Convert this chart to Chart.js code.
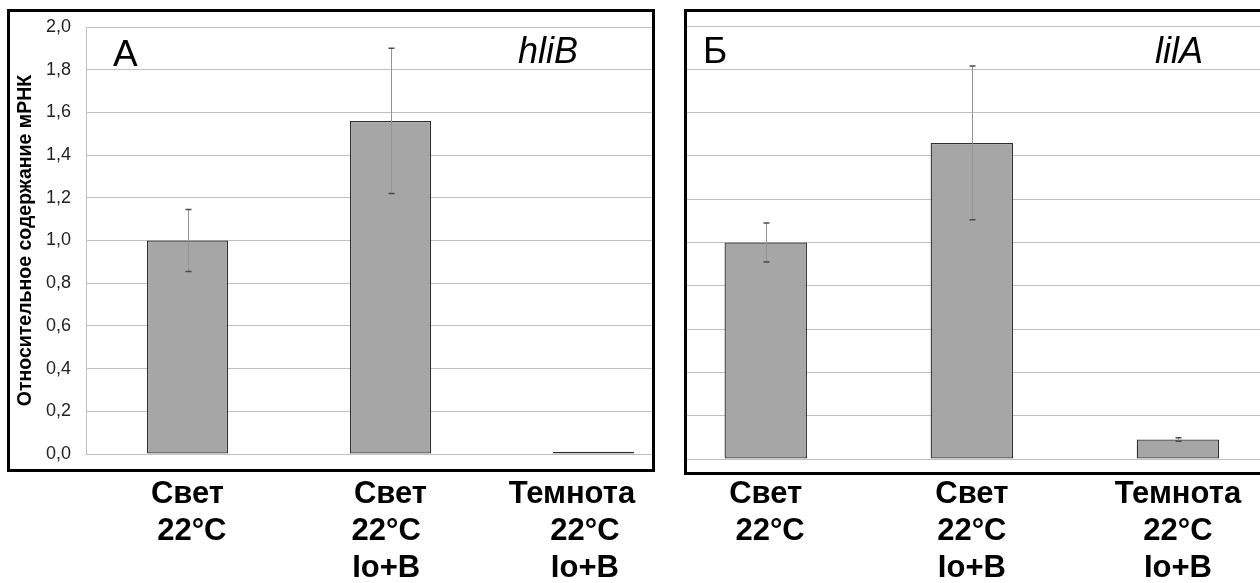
<!DOCTYPE html>
<html lang="ru">
<head>
<meta charset="utf-8">
<title>Относительное содержание мРНК: hliB и lilA</title>
<script src="https://cdn.jsdelivr.net/npm/chart.js@4.4.1/dist/chart.umd.min.js"></script>
<style>
  html, body { margin: 0; padding: 0; background: #fff; overflow: hidden; width: 1260px; height: 583px; }
  .cv { position: absolute; top: 0; }
  /* each plot is cut off by its frame on one side */
  #canvasA { left: 0; clip-path: inset(0 68px 0 0); }
  #canvasB { left: 640px; clip-path: inset(0 0 0 47px); }
  .frame { position: absolute; border: 3px solid #000; box-sizing: border-box; pointer-events: none; }
  #frameA { left: 7px; top: 9px; width: 648px; height: 463px; }
  #frameB { left: 684px; top: 9px; width: 620px; height: 466px; }
</style>
</head>
<body>
<canvas id="canvasA" class="cv" width="720" height="583"></canvas>
<canvas id="canvasB" class="cv" width="660" height="583"></canvas>
<div id="frameA" class="frame"></div>
<div id="frameB" class="frame"></div>
<script>
// Conditions (multi-line category labels; spacing nudges the lines sideways)
const labelsA = [
  ['Свет', ' 22°C'],
  ['Свет', '22°C ', 'Io+B '],
  ['Темнота     ', '22°C  ', 'Io+B  ']
];
const labelsB = [
  ['Свет', ' 22°C'],
  ['Свет', '22°C', 'Io+B'],
  ['Темнота', '22°C', 'Io+B']
];

// Relative mRNA level (mean) and error
const hliB    = [1.00, 1.56, 0.01];
const hliBErr = [0.145, 0.34, 0];
const lilA    = [1.00, 1.46, 0.09];
const lilAErr = [0.09, 0.355, 0.008];

// Value axis
const yTicks = ['0,0', '0,2', '0,4', '0,6', '0,8', '1,0', '1,2', '1,4', '1,6', '1,8', '2,0'];
const yTitle = 'Относительное содержание мРНК';

const FONT = "'Liberation Sans', Arial, sans-serif";
Chart.defaults.font.family = FONT;
Chart.defaults.animation = false;

// vertical error bars with short caps, placed through the y scale
const errorBars = {
  id: 'errorBars',
  afterDatasetsDraw(chart, args, opts) {
    const ctx = chart.ctx;
    const y = chart.scales.y;
    chart.data.datasets.forEach((ds, i) => {
      if (!ds.errors) return;
      chart.getDatasetMeta(i).data.forEach((bar, j) => {
        const e = ds.errors[j];
        if (!e) return;
        const v = ds.data[j];
        const top = y.getPixelForValue(v + e);
        const bot = y.getPixelForValue(v - e);
        const x = Math.round(bar.x) + 0.5;
        ctx.save();
        ctx.strokeStyle = opts.lineColor;
        ctx.lineWidth = 1;
        ctx.beginPath();
        ctx.moveTo(x, top);
        ctx.lineTo(x, bot);
        ctx.stroke();
        ctx.strokeStyle = opts.capColor;
        ctx.lineWidth = 1.5;
        ctx.beginPath();
        [top, bot].forEach(py => {
          ctx.moveTo(x - opts.cap, py);
          ctx.lineTo(x + opts.cap, py);
        });
        ctx.stroke();
        ctx.restore();
      });
    });
  }
};

// panel letter and gene name
const panelText = {
  id: 'panelText',
  afterDraw(chart, args, opts) {
    const ctx = chart.ctx;
    (opts.items || []).forEach(t => {
      ctx.save();
      ctx.font = t.font;
      ctx.fillStyle = '#000';
      ctx.textAlign = 'left';
      ctx.textBaseline = 'alphabetic';
      ctx.fillText(t.text, t.x, t.y);
      ctx.restore();
    });
  }
};

const GRID = '#c0c0c0';

function barPanel(id, labels, values, errors, opt) {
  return new Chart(document.getElementById(id), {
    type: 'bar',
    data: {
      labels: labels,
      datasets: [{
        data: values,
        errors: errors,
        backgroundColor: '#a6a6a6',
        borderColor: '#2e2e2e',
        borderWidth: 1.3,
        borderSkipped: false,
        barPercentage: 0.4,
        categoryPercentage: 1
      }]
    },
    options: {
      responsive: false,
      layout: { padding: opt.padding },
      plugins: {
        legend: { display: false },
        tooltip: { enabled: false },
        errorBars: { lineColor: '#959595', capColor: '#4a4a4a', cap: 3 },
        panelText: { items: opt.texts }
      },
      scales: {
        x: {
          grid: { display: false, drawTicks: false },
          border: { display: false },
          ticks: {
            color: '#000',
            font: { size: 31, weight: 'bold', lineHeight: 37 / 31 },
            padding: opt.labelPad,
            maxRotation: 0,
            autoSkip: false
          },
          afterFit(s) { s.height = opt.axisHeight; }
        },
        y: {
          min: 0,
          max: 2,
          ticks: {
            display: opt.showTicks,
            stepSize: 0.2,
            padding: 15,
            color: '#222',
            font: { size: 18 },
            callback: (v, i) => yTicks[i]
          },
          grid: { color: GRID, lineWidth: 1, drawTicks: false },
          border: { display: opt.showTicks, color: GRID, width: 1 },
          title: {
            display: opt.showTicks,
            text: yTitle,
            color: '#000',
            font: { size: 19.5, weight: 'bold' },
            padding: { top: 14, bottom: 0 }
          },
          afterFit(s) { s.width = opt.axisWidth; }
        }
      }
    },
    plugins: [errorBars, panelText]
  });
}

barPanel('canvasA', labelsA, hliB, hliBErr, {
  padding: { left: 0, right: 25, top: 27, bottom: 0 },
  axisWidth: 86,
  axisHeight: 583 - 454,
  labelPad: 22,
  showTicks: true,
  texts: [
    { text: 'А', x: 113, y: 66, font: `37px ${FONT}` },
    { text: 'hliB', x: 518, y: 63, font: `italic 36px ${FONT}` }
  ]
});

barPanel('canvasB', labelsB, lilA, lilAErr, {
  padding: { left: 22.7, right: 19, top: 26, bottom: 0 },
  axisWidth: 0,
  axisHeight: 583 - 459,
  labelPad: 17,
  showTicks: false,
  texts: [
    { text: 'Б', x: 63, y: 63, font: `37px ${FONT}` },
    { text: 'lilA', x: 515, y: 63, font: `italic 36px ${FONT}` }
  ]
});
</script>
</body>
</html>
